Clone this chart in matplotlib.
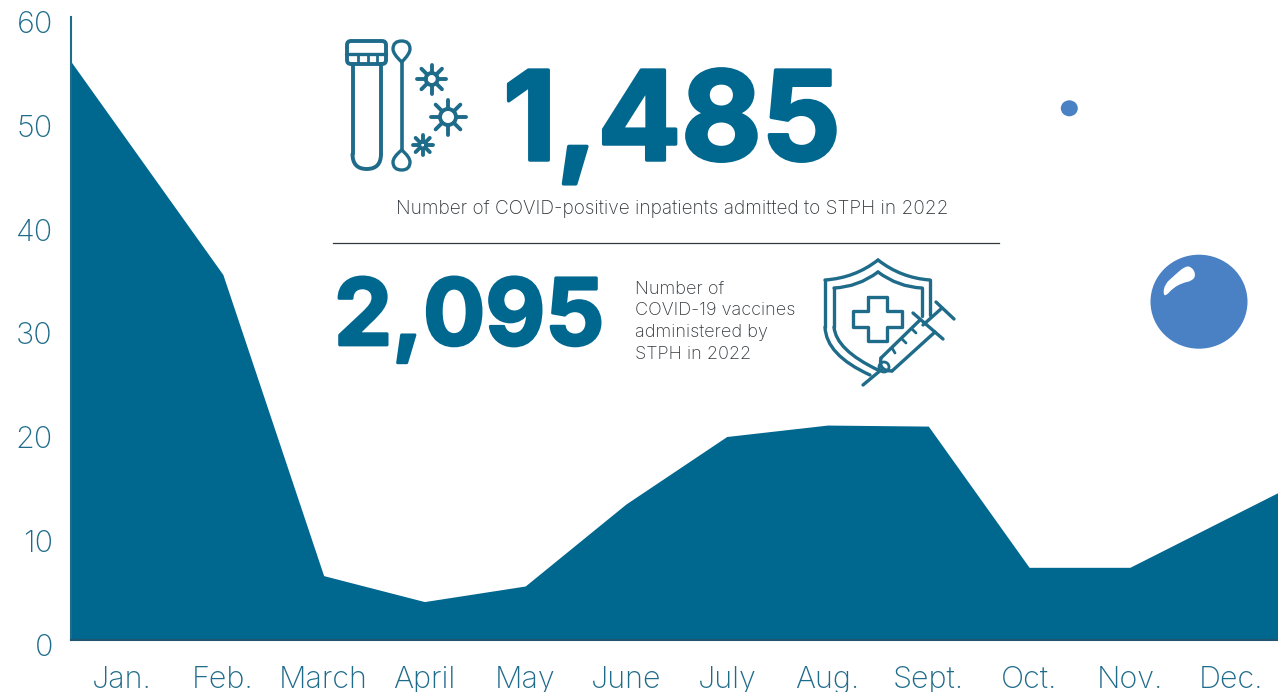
import numpy as np
import matplotlib
matplotlib.use("Agg")
import matplotlib.pyplot as plt
import matplotlib.patheffects as pe
from matplotlib.patches import Circle, Ellipse, FancyBboxPatch, PathPatch
from matplotlib.path import Path
from matplotlib.transforms import ScaledTranslation

months = ["Jan.", "Feb.", "March", "April", "May", "June", "July", "Aug.", "Sept.", "Oct.", "Nov.", "Dec."]
patients = [55.7, 35.2, 6.2, 3.7, 5.2, 13.1, 19.6, 20.7, 20.6, 7.0, 7.0, 14.2]
y_ticks = [0, 10, 20, 30, 40, 50, 60]

AREA = "#00678f"
INK = "#1f6b8a"
BUBBLE = "#4a80c4"
FONT = "Inter"

W, H = 1278, 692
fig = plt.figure(figsize=(W / 100, H / 100), dpi=100)
ax = fig.add_axes([71 / W, (H - 640) / H, (W - 71) / W, 623 / H])

# first and last values sit on the axes edges, the rest on their month
xmin, xmax = -0.507, 11.47
xs = np.arange(len(months), dtype=float)
xs[0] = xmin
xs[-1] = xmax
ax.fill_between(xs, patients, 0, color=AREA, lw=0)
ax.set_xlim(xmin, xmax)
ax.set_ylim(0, 60)

for s in ["top", "right"]:
    ax.spines[s].set_visible(False)
ax.spines["left"].set_color(INK)
ax.spines["left"].set_linewidth(1.5)
ax.spines["bottom"].set_color("#20566f")
ax.spines["bottom"].set_linewidth(1.5)

ax.set_xticks(np.arange(len(months)))
ax.set_xticklabels(months, fontsize=22, color=INK, family=FONT, fontweight="light")
ax.set_yticks(y_ticks)
ax.set_yticklabels(y_ticks, fontsize=22, color=INK, family=FONT, fontweight="light")
ax.tick_params(length=0)
ax.tick_params(axis="x", pad=18.5)
ax.tick_params(axis="y", pad=13)
shift = ScaledTranslation(0, -5 / 100, fig.dpi_scale_trans)
for lab in ax.get_yticklabels():
    lab.set_transform(lab.get_transform() + shift)

# overlay in image pixels for the infographic parts
ov = fig.add_axes([0, 0, 1, 1])
ov.set_xlim(0, W)
ov.set_ylim(H, 0)
ov.axis("off")
ov.patch.set_alpha(0)

big = ov.text(503, 160, "1,485", fontsize=89, color=AREA, family=FONT, fontweight="bold", va="baseline")
big.set_path_effects([pe.withStroke(linewidth=2.5, foreground=AREA)])
big = ov.text(334, 345, "2,095", fontsize=66.5, color=AREA, family=FONT, fontweight="bold", va="baseline")
big.set_path_effects([pe.withStroke(linewidth=2, foreground=AREA)])
ov.text(672, 209.5, "Number of COVID-positive inpatients admitted to STPH in 2022", fontsize=13.7,
        color="#33383c", family=FONT, fontweight="light", ha="center", va="center")
for i, line in enumerate(["Number of", "COVID-19 vaccines", "administered by", "STPH in 2022"]):
    ov.text(635, 289 + i * 21.8, line, fontsize=13, color="#33383c", family=FONT,
            fontweight="light", va="center")
ov.plot([333, 999], [243, 243], color="#33383c", lw=0.9)


def stroke(pts, lw=2.4, close=False):
    pts = np.array(pts)
    if close:
        pts = np.vstack([pts, pts[:1]])
    ov.plot(pts[:, 0], pts[:, 1], color=INK, lw=lw, solid_capstyle="round", solid_joinstyle="round")


def curve(verts, lw=2.4):
    # odd number of points: start, then control/end pairs
    codes = [Path.MOVETO] + [Path.CURVE3] * (len(verts) - 1)
    ov.add_patch(PathPatch(Path(verts, codes), fc="none", ec=INK, lw=lw, capstyle="round", zorder=2))


def blob(pts, color):
    # smooth closed shape through the midpoints of pts
    pts = np.array(pts)
    mids = (pts + np.roll(pts, -1, axis=0)) / 2
    verts, codes = [mids[-1]], [Path.MOVETO]
    for p, m in zip(pts, mids):
        verts += [p, m]
        codes += [Path.CURVE3, Path.CURVE3]
    ov.add_patch(PathPatch(Path(verts, codes), fc=color, ec="none"))


def virus(cx, cy, r, ray, n=8):
    ov.add_patch(Circle((cx, cy), r, fc="none", ec=INK, lw=2.8))
    for a in np.arange(n) * 2 * np.pi / n:
        stroke([[cx + r * np.cos(a), cy + r * np.sin(a)], [cx + ray * np.cos(a), cy + ray * np.sin(a)]], lw=2.8)


# test tube
ov.add_patch(FancyBboxPatch((347, 41), 39, 23, boxstyle="round,pad=0,rounding_size=4", fc="none", ec=INK, lw=2.8))
stroke([[346, 54], [386, 54]], lw=2.4)
for x in [358, 367.5, 377]:
    stroke([[x, 55], [x, 63]], lw=2)
stroke([[352.5, 64], [352.5, 154]], lw=2.8)
stroke([[381, 64], [381, 154]], lw=2.8)
curve([(352.5, 154), (352.5, 169), (366.7, 169), (381, 169), (381, 154)], lw=2.8)

# swab
stroke([[401.7, 62], [401.7, 150]], lw=2.6)
curve([(401.7, 62), (393, 54), (393, 49), (393, 41), (401.7, 41), (410, 41), (410, 49), (410, 54), (401.7, 62)], lw=2.4)
curve([(401.7, 150), (393, 157), (393, 162), (393, 170), (401.7, 170), (410, 170), (410, 162), (410, 157), (401.7, 150)], lw=2.4)

virus(431.7, 79, 6, 14.5)
virus(448, 117, 8, 17.5)
virus(422.7, 145, 3.5, 10)

# shield
curve([(878, 260), (901, 278), (930, 280)])
stroke([[930, 280], [930, 315]])
curve([(878, 260), (855, 278), (825, 280)])
stroke([[825, 280], [825, 327]])
curve([(825, 327), (826, 355), (870, 375)])
curve([(878, 272), (898, 287), (922, 288)])
stroke([[922, 288], [922, 316]])
curve([(878, 272), (858, 287), (834, 288)])
stroke([[834, 288], [834, 327]])
curve([(834, 327), (836, 350), (878, 370)])
stroke([[868, 297], [887, 297], [887, 311], [902, 311], [902, 327], [887, 327], [887, 341],
        [868, 341], [868, 327], [853, 327], [853, 311], [868, 311]], close=True)

# syringe
stroke([[881, 358], [920, 320]], lw=2.4)
stroke([[892, 371], [935, 332]], lw=2.4)
curve([(881, 358), (878, 371), (892, 371)], lw=2.4)
stroke([[913, 313], [943, 339]])
stroke([[923, 325], [942, 308]])
stroke([[936, 302], [954, 319]])
stroke([[863, 385], [881, 370]])
stroke([[892, 348], [895, 353]], lw=2)
stroke([[902, 339], [906, 343]], lw=2)
stroke([[912, 329], [916, 333]], lw=2)
ov.add_patch(Circle((884, 367), 5, fc="none", ec=INK, lw=2))

# bubbles
ov.add_patch(Ellipse((1069.3, 108.3), 17, 16, color=BUBBLE, lw=0))
ov.add_patch(Ellipse((1199, 301.7), 97, 94, color=BUBBLE, lw=0))
blob([(1163, 294), (1165, 284), (1173, 276.7), (1185, 266), (1192, 267), (1196, 275), (1192, 281),
      (1183, 282.7), (1173, 288), (1166, 296)], "white")

fig.savefig("out.png", dpi=100)
